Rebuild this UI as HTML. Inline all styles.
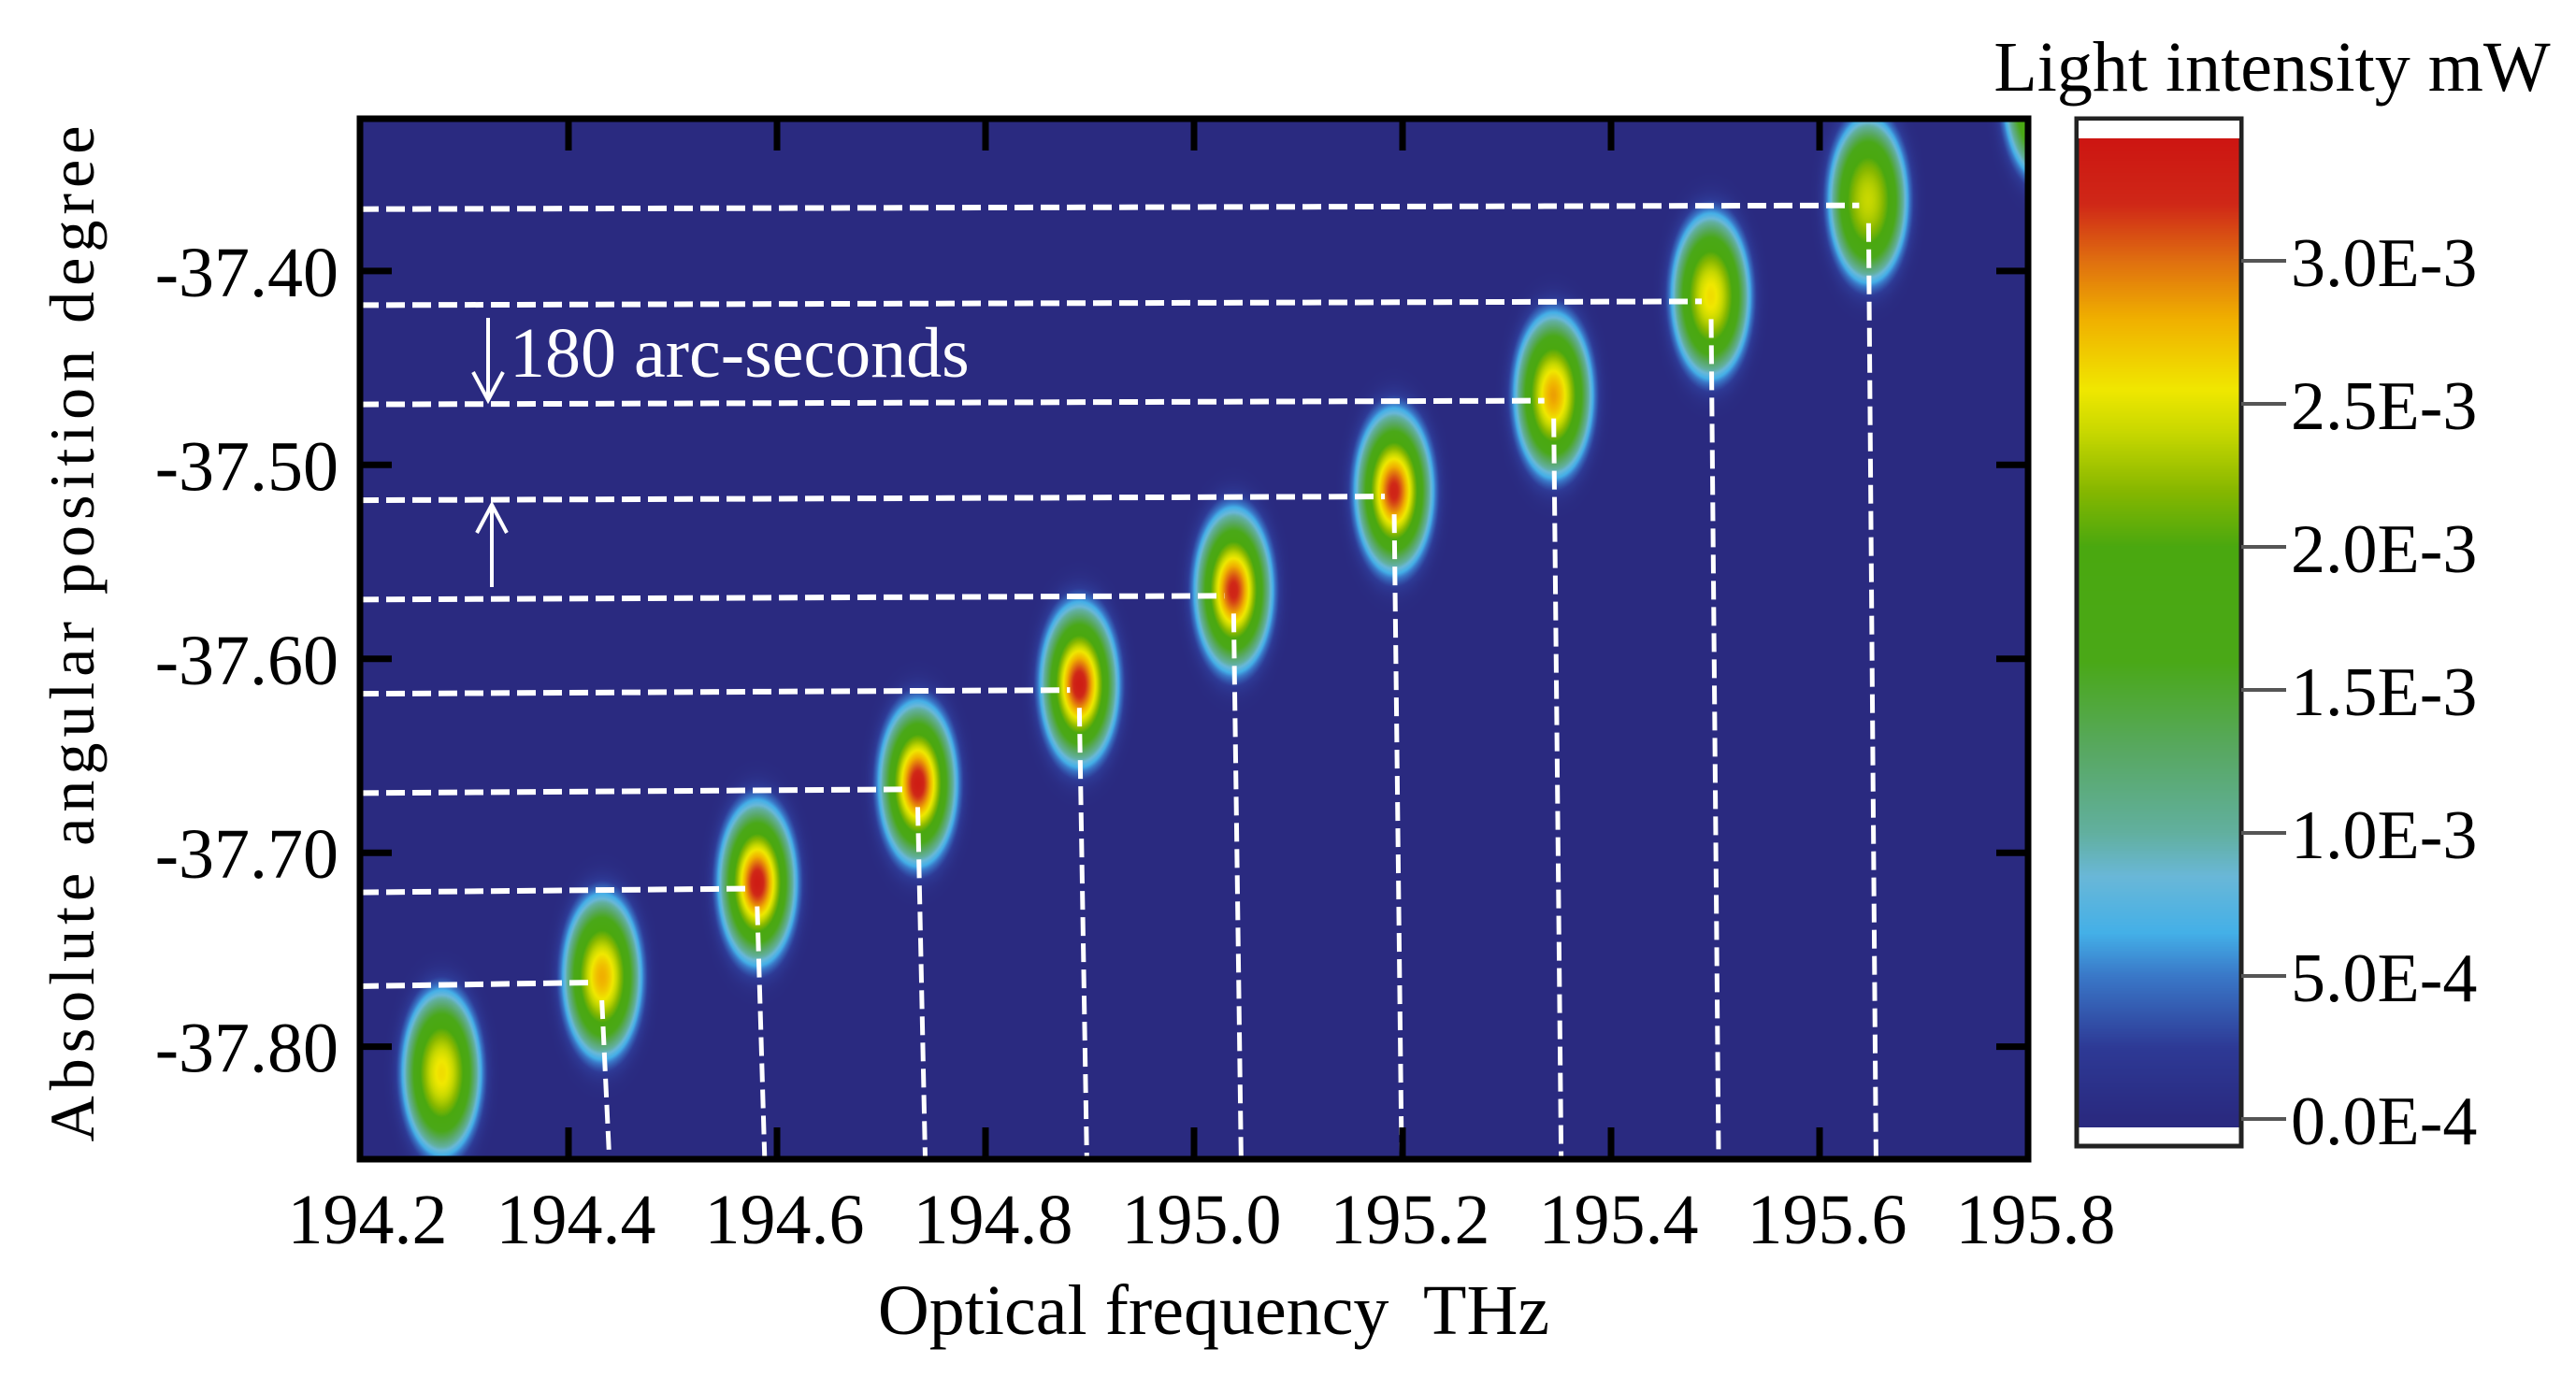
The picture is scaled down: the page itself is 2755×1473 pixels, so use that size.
<!DOCTYPE html>
<html><head><meta charset="utf-8">
<style>
html,body{margin:0;padding:0;background:#fff;width:2755px;height:1473px;overflow:hidden;font-family:"Liberation Serif",serif;}
svg text{font-family:"Liberation Serif",serif;}
</style></head>
<body>
<div style="position:absolute;left:0;top:0;width:2755px;height:1473px;">
<canvas id="heat" width="1784" height="1113" style="position:absolute;left:385px;top:127px;"></canvas>
<canvas id="cbar" width="176" height="1058" style="position:absolute;left:2221px;top:148px;"></canvas>
<svg id="svg" width="2755" height="1473" style="position:absolute;left:0;top:0;"></svg>
</div>
<script>
// ---- data ----
const freqs  = [194.278,194.432,194.581,194.735,194.890,195.038,195.192,195.345,195.496,195.647,195.815];
const angles = [-37.8136,-37.764,-37.7156,-37.6644,-37.6132,-37.5646,-37.5134,-37.464,-37.4128,-37.3633,-37.31];
const peaks  = [2.6e-3,2.8e-3,3.35e-3,3.35e-3,3.35e-3,3.25e-3,3.25e-3,2.85e-3,2.6e-3,2.4e-3,2.3e-3];
const xTicks = [194.2,194.4,194.6,194.8,195.0,195.2,195.4,195.6,195.8];
const xTickLabels = ["194.2","194.4","194.6","194.8","195.0","195.2","195.4","195.6","195.8"];
const yTicks = [-37.40,-37.50,-37.60,-37.70,-37.80];
const yTickLabels = ["-37.40","-37.50","-37.60","-37.70","-37.80"];
const cTicks = [3.0e-3,2.5e-3,2.0e-3,1.5e-3,1.0e-3,5.0e-4,0];
const cTickLabels = ["3.0E-3","2.5E-3","2.0E-3","1.5E-3","1.0E-3","5.0E-4","0.0E-4"];
const linedSpots = [1,2,3,4,5,6,7,8,9];

// ---- axes ----
const PL=385, PT=127, PR=2169, PB=1240;
const X0=194.2, X1=195.8, Y0=-37.858, Y1=-37.3215;
const xs = v => PL + (v-X0)/(X1-X0)*(PR-PL);
const ys = v => PB - (v-Y0)/(Y1-Y0)*(PB-PT);
const CB0=1197, CBPER=306000;
const cs = v => CB0 - v*CBPER;

const stops=[[0,[42,42,128]],[0.25e-3,[46,58,150]],[0.5e-3,[58,120,200]],[0.65e-3,[68,176,232]],[0.85e-3,[106,184,216]],[1.0e-3,[98,176,160]],[1.3e-3,[88,168,96]],[1.6e-3,[74,168,24]],[2.0e-3,[74,168,16]],[2.2e-3,[136,184,0]],[2.4e-3,[200,216,0]],[2.55e-3,[240,232,0]],[2.8e-3,[240,176,0]],[3.0e-3,[224,112,16]],[3.2e-3,[208,40,24]],[3.5e-3,[204,16,16]]];
function cmap(v){
  if(v<=0) return stops[0][1];
  for(let i=1;i<stops.length;i++){
    if(v<=stops[i][0]){const a=stops[i-1],b=stops[i];const t=(v-a[0])/(b[0]-a[0]);
      return [0,1,2].map(k=>a[1][k]+(b[1][k]-a[1][k])*t);}
  }
  return stops[stops.length-1][1];
}
const hc=document.getElementById('heat'),hx=hc.getContext('2d');
const W=hc.width,H=hc.height,img=hx.createImageData(W,H);
const HWF=0.038, HWA=0.043;
for(let py=0;py<H;py++){
  const a=Y1-(py/(H-1))*(Y1-Y0);
  for(let px=0;px<W;px++){
    const f=X0+(px/(W-1))*(X1-X0);
    let v=0;
    for(let i=0;i<freqs.length;i++){
      const dx=(f-freqs[i])/HWF, dy=(a-angles[i])/HWA;
      const r2=dx*dx+dy*dy; if(r2>4) continue;
      v+=2.1e-3*Math.exp(-r2*r2*1.2)+(peaks[i]-2.1e-3)*Math.exp(-r2/(2*0.09));
    }
    const c=cmap(v),o=(py*W+px)*4;
    img.data[o]=c[0];img.data[o+1]=c[1];img.data[o+2]=c[2];img.data[o+3]=255;
  }
}
hx.putImageData(img,0,0);
const cc=document.getElementById('cbar'),cx=cc.getContext('2d');
for(let py=0;py<cc.height;py++){
  const v=(CB0-(148+py))/CBPER;
  if(v<-0.03e-3){cx.fillStyle='#fff';}else{const c=cmap(Math.max(v,0));cx.fillStyle=`rgb(${c[0]|0},${c[1]|0},${c[2]|0})`;}
  cx.fillRect(0,py,cc.width,1);
}

const svg=document.getElementById('svg'),NS='http://www.w3.org/2000/svg';
function mk(tag,attrs,parent){const e=document.createElementNS(NS,tag);for(const k in attrs)e.setAttribute(k,attrs[k]);(parent||svg).appendChild(e);return e;}

for(const i of linedSpots){
  const hl=mk('line',{x1:PL,y1:ys(angles[i])+10,x2:xs(freqs[i])-10,y2:ys(angles[i])+6,stroke:'#fff','stroke-width':6,'stroke-dasharray':'20 8'});
  
  
  const vl=mk('line',{x1:xs(freqs[i]),y1:ys(angles[i])+25,x2:xs(freqs[i])+8,y2:PB,stroke:'#fff','stroke-width':5,'stroke-dasharray':'20 8'});
  
  
}
const fr=mk('rect',{x:PL,y:PT,width:PR-PL,height:PB-PT,fill:'none',stroke:'#000','stroke-width':7});


xTicks.forEach((t,i)=>{
  const x=xs(t);
  if(i>0&&i<xTicks.length-1){
    mk('line',{x1:x,y1:PT,x2:x,y2:PT+34,stroke:'#000','stroke-width':7});
    mk('line',{x1:x,y1:PB,x2:x,y2:PB-34,stroke:'#000','stroke-width':7});
  }
  const tx=mk('text',{x:x+8,y:1330,'font-size':76,'text-anchor':'middle',fill:'#000'});
  tx.textContent=xTickLabels[i];
  
  
});
yTicks.forEach((t,i)=>{
  const y=ys(t);
  mk('line',{x1:PL,y1:y,x2:PL+34,y2:y,stroke:'#000','stroke-width':7});
  mk('line',{x1:PR,y1:y,x2:PR-34,y2:y,stroke:'#000','stroke-width':7});
  const tx=mk('text',{x:362,y:y+27,'font-size':76,'text-anchor':'end',fill:'#000'});
  tx.textContent=yTickLabels[i];
  
  
});
const cbf=mk('rect',{x:2221,y:127,width:176,height:1099,fill:'none',stroke:'#222','stroke-width':5});


mk('rect',{x:2223,y:129,width:172,height:19,fill:'#fff'});
cTicks.forEach((t,i)=>{
  const y=cs(t);
  mk('line',{x1:2397,y1:y,x2:2445,y2:y,stroke:'#555','stroke-width':4});
  const tx=mk('text',{x:2450,y:y+27,'font-size':74,fill:'#000'});
  tx.textContent=cTickLabels[i];
  
  
});
</script>
<svg width="2755" height="1473" style="position:absolute;left:0;top:0;pointer-events:none;">
<text x="2430" y="97" font-size="76" text-anchor="middle" fill="#000">Light intensity mW</text>
<text x="1298" y="1427" font-size="76" text-anchor="middle" fill="#000" xml:space="preserve">Optical frequency  THz</text>
<text transform="translate(100,675) rotate(-90)" font-size="68" text-anchor="middle" fill="#000" letter-spacing="6">Absolute angular position degree</text>
<text x="545" y="403" font-size="76" fill="#fff">180 arc-seconds</text>
<g stroke="#fff" stroke-width="4" fill="none">
<line x1="522" y1="340" x2="522" y2="425"/><polyline points="506,398 522,428 538,398"/>
</g>
<g stroke="#fff" stroke-width="4" fill="none">
<line x1="526" y1="540" x2="526" y2="628"/><polyline points="510,570 526,540 542,570"/>
</g>
</svg>
</body></html>
